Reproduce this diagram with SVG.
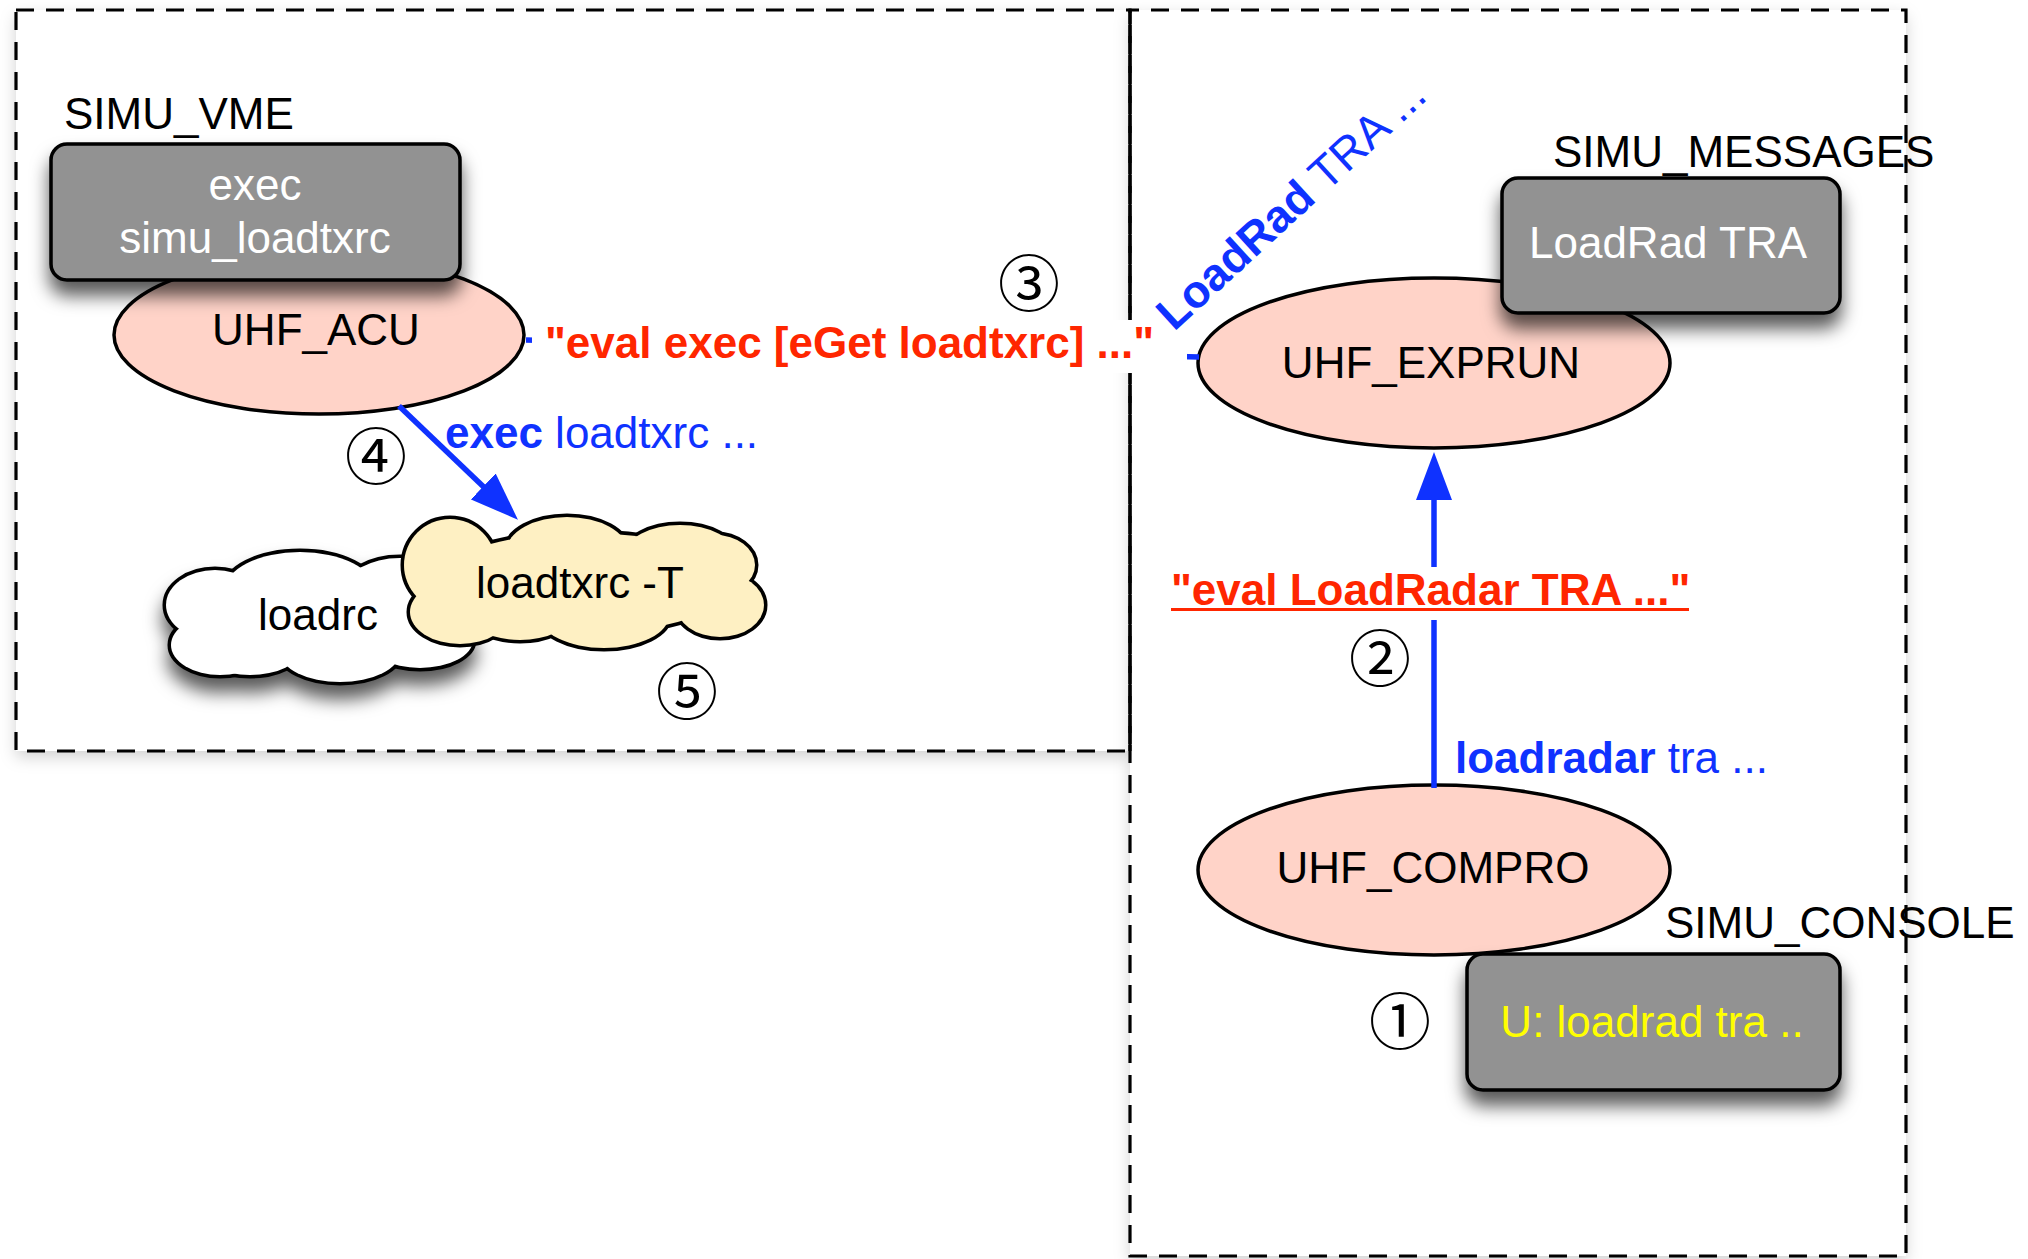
<svg xmlns="http://www.w3.org/2000/svg" width="2028" height="1259" viewBox="0 0 2028 1259">
<defs>
<style>
text{font-family:"Liberation Sans",Arial,sans-serif;font-size:44px}
.lbl{fill:#000}
.wt{fill:#fff}
.mid{text-anchor:middle}
.grp{fill:#fff;stroke:none}
.dash{fill:none;stroke:#000;stroke-width:3.2;stroke-dasharray:18 12}
.ell{fill:#FFD3C8;stroke:#000;stroke-width:3.5}
.gbox{fill:#929292;stroke:#000;stroke-width:3.5}
.conn{fill:none;stroke:#0F32FF;stroke-width:5.5}
.num{font-family:"Noto Sans CJK JP","DejaVu Sans",sans-serif;font-size:62px;text-anchor:middle;dominant-baseline:central;fill:#000}
.blue{fill:#0F32FF}
.red{fill:#FF2600;font-weight:bold}
.b{font-weight:bold}
</style>
<filter id="boxsh" x="-20%" y="-20%" width="140%" height="150%">
<feDropShadow dx="0" dy="14" stdDeviation="9" flood-color="#000" flood-opacity="0.65"/>
</filter>
<filter id="areash" x="-5%" y="-5%" width="110%" height="110%">
<feDropShadow dx="0" dy="6" stdDeviation="8" flood-color="#000" flood-opacity="0.18"/>
</filter>
<marker id="arr" markerUnits="userSpaceOnUse" viewBox="0 0 48 36" refX="8" refY="18" markerWidth="48" markerHeight="36" orient="auto">
<path d="M0,0 L48,18 L0,36 Z" fill="#0F32FF"/>
</marker>
</defs>

<g id="areas">
<rect class="grp" x="16" y="10" width="1114" height="741" filter="url(#areash)"/>
<rect class="grp" x="1130" y="10" width="776" height="1246" filter="url(#areash)"/>
<rect class="dash" x="16" y="10" width="1114" height="741"/>
<rect class="dash" x="1130" y="10" width="776" height="1246" stroke-dashoffset="9"/>
<line x1="1130" y1="10" x2="1130" y2="751" stroke="#000" stroke-width="3.2"/>
</g>

<g id="uhf_acu">
<ellipse class="ell" cx="319" cy="335" rx="205" ry="79"/>
<text class="lbl mid" x="316" y="345">UHF_ACU</text>
</g>

<g id="simu_vme">
<text class="lbl" x="64" y="129">SIMU_VME</text>
<rect class="gbox" x="51" y="144" width="409" height="136" rx="16" filter="url(#boxsh)"/>
<text class="wt mid" x="255" y="200">exec</text>
<text class="wt mid" x="255" y="253">simu_loadtxrc</text>
</g>

<g id="loadrc">
<g filter="url(#boxsh)">
<g fill="none" stroke="#000" stroke-width="7">
<ellipse cx="320" cy="617" rx="130" ry="50"/>
<ellipse cx="300" cy="590" rx="75" ry="38"/>
<ellipse cx="400" cy="590" rx="55" ry="32"/>
<ellipse cx="215" cy="605" rx="49" ry="35"/>
<ellipse cx="220" cy="645" rx="49" ry="30"/>
<ellipse cx="250" cy="650" rx="50" ry="25"/>
<ellipse cx="340" cy="652" rx="60" ry="30"/>
<ellipse cx="420" cy="640" rx="53" ry="28"/>
</g>
<g fill="#fff">
<ellipse cx="320" cy="617" rx="130" ry="50"/>
<ellipse cx="300" cy="590" rx="75" ry="38"/>
<ellipse cx="400" cy="590" rx="55" ry="32"/>
<ellipse cx="215" cy="605" rx="49" ry="35"/>
<ellipse cx="220" cy="645" rx="49" ry="30"/>
<ellipse cx="250" cy="650" rx="50" ry="25"/>
<ellipse cx="340" cy="652" rx="60" ry="30"/>
<ellipse cx="420" cy="640" rx="53" ry="28"/>
</g>
</g>
<text class="lbl mid" x="318" y="630">loadrc</text>
</g>

<g id="loadtxrc">
<g fill="none" stroke="#000" stroke-width="7">
<ellipse cx="584" cy="583" rx="150" ry="50"/>
<ellipse cx="450" cy="565" rx="46" ry="46"/>
<ellipse cx="460" cy="612" rx="50" ry="32"/>
<ellipse cx="567" cy="550" rx="60" ry="33"/>
<ellipse cx="680" cy="555" rx="55" ry="30"/>
<ellipse cx="715" cy="565" rx="40" ry="30"/>
<ellipse cx="720" cy="605" rx="44" ry="32"/>
<ellipse cx="604" cy="615" rx="65" ry="33"/>
<ellipse cx="520" cy="615" rx="50" ry="25"/>
</g>
<g fill="#FEF0C3">
<ellipse cx="584" cy="583" rx="150" ry="50"/>
<ellipse cx="450" cy="565" rx="46" ry="46"/>
<ellipse cx="460" cy="612" rx="50" ry="32"/>
<ellipse cx="567" cy="550" rx="60" ry="33"/>
<ellipse cx="680" cy="555" rx="55" ry="30"/>
<ellipse cx="715" cy="565" rx="40" ry="30"/>
<ellipse cx="720" cy="605" rx="44" ry="32"/>
<ellipse cx="604" cy="615" rx="65" ry="33"/>
<ellipse cx="520" cy="615" rx="50" ry="25"/>
</g>
<text class="lbl mid" x="580" y="598">loadtxrc -T</text>
</g>

<g id="uhf_exprun">
<ellipse class="ell" cx="1434" cy="363" rx="236" ry="85"/>
<text class="lbl mid" x="1431" y="378">UHF_EXPRUN</text>
</g>

<g id="simu_messages">
<text class="lbl" x="1553" y="167">SIMU_MESSAGES</text>
<rect class="gbox" x="1502" y="178" width="338" height="135" rx="16" filter="url(#boxsh)"/>
<text class="wt mid" x="1668" y="258">LoadRad TRA</text>
</g>

<g id="uhf_compro">
<ellipse class="ell" cx="1434" cy="870" rx="236" ry="85"/>
<text class="lbl mid" x="1433" y="883">UHF_COMPRO</text>
</g>

<g id="simu_console">
<text class="lbl" x="1665" y="938">SIMU_CONSOLE</text>
<rect class="gbox" x="1467" y="954" width="373" height="136" rx="16" filter="url(#boxsh)"/>
<text class="mid" x="1652" y="1037" fill="#FFFF00">U: loadrad tra ..</text>
</g>

<g id="connectors">
<line class="conn" x1="526" y1="340" x2="1199" y2="357"/>
<rect x="532" y="320" width="655" height="53" fill="#fff"/>
<text class="red" x="545" y="358">"eval exec [eGet loadtxrc] ..."</text>
<text class="blue" x="1174" y="332" style="font-size:45.5px" transform="rotate(-42.5 1174 332)"><tspan class="b">LoadRad</tspan> TRA ...</text>

<path class="conn" d="M399,406 L489,492" marker-end="url(#arr)"/>
<text class="blue" x="445" y="448"><tspan class="b">exec</tspan> loadtxrc ...</text>

<path class="conn" d="M1434,788 L1434,492" marker-end="url(#arr)"/>
<rect x="1153" y="567" width="540" height="53" fill="#fff"/>
<text class="red" x="1171" y="605">"eval LoadRadar TRA ..."</text>
<rect x="1171" y="608" width="518" height="3" fill="#FF2600"/>
<text class="blue" x="1455" y="773"><tspan class="b">loadradar</tspan> tra ...</text>
</g>

<g id="steps">
<text class="num" x="1400" y="1018">①</text>
<text class="num" x="1380" y="655">②</text>
<text class="num" x="1029" y="280">③</text>
<text class="num" x="376" y="453">④</text>
<text class="num" x="687" y="688">⑤</text>
</g>
</svg>
